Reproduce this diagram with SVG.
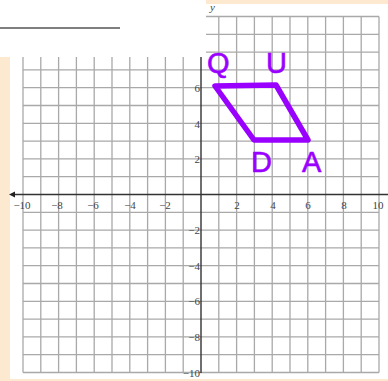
<svg xmlns="http://www.w3.org/2000/svg" width="388" height="381" viewBox="0 0 388 381">
<defs>
<style>
.grid{stroke:#a9a9a9;stroke-width:1.3;fill:none}
.axis{stroke:#333;stroke-width:1.4;fill:none}
.tick{font-family:"Liberation Serif",serif;font-size:11px;fill:#444}
.tx{text-anchor:middle}
.ty{text-anchor:end}
.pt{font-family:"Liberation Sans",Arial,sans-serif;font-size:29px;fill:#9a00ff;stroke:#9a00ff;stroke-width:0.6}
</style>
</defs>
<rect x="0" y="0" width="388" height="381" fill="#fde9cf"/>
<rect x="10" y="4" width="378" height="375" fill="#fff"/>
<g id="grid">
<path class="grid" d="M23 16.5V372.5M40.8 16.5V372.5M58.6 16.5V372.5M76.4 16.5V372.5M94.2 16.5V372.5M112 16.5V372.5M129.8 16.5V372.5M147.6 16.5V372.5M165.4 16.5V372.5M183.2 16.5V372.5M218.8 16.5V372.5M236.6 16.5V372.5M254.4 16.5V372.5M272.2 16.5V372.5M290 16.5V372.5M307.8 16.5V372.5M325.6 16.5V372.5M343.4 16.5V372.5M361.2 16.5V372.5M379 16.5V372.5"/>
<path class="grid" d="M23 16.5H379M23 34.3H379M23 52.1H379M23 69.9H379M23 87.7H379M23 105.5H379M23 123.3H379M23 141.1H379M23 158.9H379M23 176.7H379M23 212.3H379M23 230.1H379M23 247.9H379M23 265.7H379M23 283.5H379M23 301.3H379M23 319.1H379M23 336.9H379M23 354.7H379M23 372.5H379"/>
</g>
<g id="axes">
<path class="axis" d="M13 194.5H388M201 16.5V373"/>
<path d="M9 194.5L15 191.5V197.5Z" fill="#222"/>
</g>
<rect x="0" y="0" width="206" height="57" fill="#fff"/>
<rect x="206" y="0" width="182" height="3.5" fill="#fde9cf"/>
<path d="M0 28H120" stroke="#555" stroke-width="1.3"/>
<g id="labels">
<text class="tick" x="210" y="11" font-style="italic">y</text>
<text class="tick tx" x="22" y="209">−10</text>
<text class="tick tx" x="57" y="209">−8</text>
<text class="tick tx" x="93" y="209">−6</text>
<text class="tick tx" x="130" y="209">−4</text>
<text class="tick tx" x="165" y="209">−2</text>
<text class="tick tx" x="237" y="209">2</text>
<text class="tick tx" x="273" y="209">4</text>
<text class="tick tx" x="308" y="209">6</text>
<text class="tick tx" x="344" y="209">8</text>
<text class="tick tx" x="378" y="209">10</text>
<text class="tick ty" x="200" y="92">6</text>
<text class="tick ty" x="200" y="128">4</text>
<text class="tick ty" x="200" y="163">2</text>
<text class="tick ty" x="200" y="234">−2</text>
<text class="tick ty" x="200" y="270">−4</text>
<text class="tick ty" x="200" y="305">−6</text>
<text class="tick ty" x="200" y="341">−8</text>
<text class="tick ty" x="200" y="377">−10</text>
</g>
<g id="shape">
<polygon points="215,86 276,85 308,140 254,140" fill="none" stroke="#9a00ff" stroke-width="5.5" stroke-linejoin="round"/>
</g>
<g id="Q"><text class="pt" x="207" y="73">Q</text></g>
<g id="U"><text class="pt" x="266" y="73">U</text></g>
<g id="D"><text class="pt" x="251" y="172">D</text></g>
<g id="A"><text class="pt" x="302" y="172">A</text></g>
</svg>
